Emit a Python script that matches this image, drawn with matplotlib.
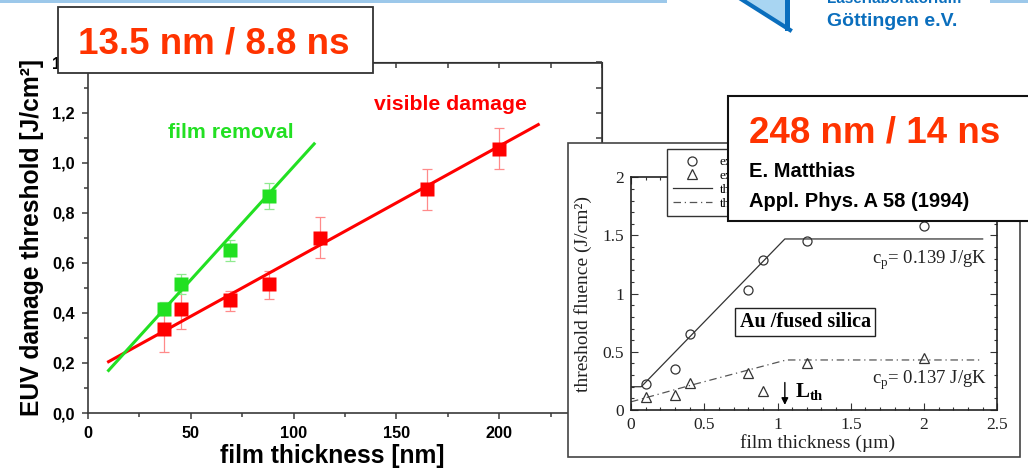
import numpy as np
import matplotlib
matplotlib.use("Agg")
import matplotlib.pyplot as plt
from matplotlib.patches import Rectangle, Polygon
from matplotlib.lines import Line2D

plt.rcParams['font.family'] = ['Liberation Sans', 'DejaVu Sans']
plt.rcParams['mathtext.fontset'] = 'custom'
plt.rcParams['mathtext.rm'] = 'Liberation Serif'
plt.rcParams['mathtext.bf'] = 'Liberation Serif:bold'

W, H = 1028, 470

# EUV (13.5 nm / 8.8 ns) damage thresholds
removal_thick = [37, 45, 69, 88]
removal_thr = [0.415, 0.515, 0.652, 0.868]
removal_lo = [0.39, 0.475, 0.609, 0.816]
removal_hi = [0.445, 0.556, 0.692, 0.919]
damage_thick = [37, 45, 69, 88, 113, 165, 200]
damage_thr = [0.335, 0.415, 0.45, 0.515, 0.70, 0.895, 1.056]
damage_lo = [0.243, 0.335, 0.408, 0.455, 0.619, 0.81, 0.976]
damage_hi = [0.408, 0.492, 0.488, 0.569, 0.783, 0.975, 1.139]
removal_fit_x = [10, 110]
removal_fit_y = [0.17, 1.075]
damage_fit_x = [10, 219]
damage_fit_y = [0.205, 1.152]
main_xticks = [0, 50, 100, 150, 200, 250]
main_xlabels = ['0', '50', '100', '150', '200', '250']
main_yticks = [0.0, 0.2, 0.4, 0.6, 0.8, 1.0, 1.2, 1.4]
main_ylabels = ['0,0', '0,2', '0,4', '0,6', '0,8', '1,0', '1,2', '1,4']

# 248 nm / 14 ns, Au on fused silica (Matthias 1994)
circ_x = [0.1, 0.3, 0.4, 0.8, 0.9, 1.2, 2.0]
circ_y = [0.22, 0.35, 0.65, 1.03, 1.29, 1.45, 1.58]
tri_x = [0.1, 0.3, 0.4, 0.8, 0.9, 1.2, 2.0]
tri_y = [0.11, 0.13, 0.23, 0.32, 0.16, 0.40, 0.45]
theo1_x = [0.0, 0.07, 1.05, 2.4]
theo1_y = [0.2, 0.2, 1.47, 1.47]
theo2_x = [0.0, 0.4, 1.06, 2.4]
theo2_y = [0.07, 0.21, 0.43, 0.43]
inset_xticks = [0, 0.5, 1, 1.5, 2, 2.5]
inset_xlabels = ['0', '0.5', '1', '1.5', '2', '2.5']
inset_yticks = [0, 0.5, 1, 1.5, 2]
inset_ylabels = ['0', '0.5', '1', '1.5', '2']
# legend entries are hidden behind the caption box except their first letters
inset_legend = ['ex', 'ex', 'th', 'th']

RED = '#ff0000'
GREEN = '#22e022'
TITLE = '#ff3300'
BLUE = '#0a6ebd'
SERIF = 'Liberation Serif'


def fx(x):
    return x / W


def fy(y):
    return 1 - y / H


def box(x0, y0, x1, y1):
    return [fx(x0), fy(y1), (x1 - x0) / W, (y1 - y0) / H]


def frect(x0, y0, x1, y1, **kw):
    r = Rectangle((fx(x0), fy(y1)), (x1 - x0) / W, (y1 - y0) / H,
                  transform=fig.transFigure, **kw)
    fig.add_artist(r)
    return r


fig = plt.figure(figsize=(W / 100, H / 100), dpi=100)

# ---- main EUV plot ----
ax = fig.add_axes(box(88, 62.5, 602, 413))
ax.set_xlim(0, 250)
ax.set_ylim(0, 1.4)

for th, thr, lo, hi, col, ecol in [
        (damage_thick, damage_thr, damage_lo, damage_hi, RED, '#ff8a8a'),
        (removal_thick, removal_thr, removal_lo, removal_hi, GREEN, '#8fea8f')]:
    thr = np.array(thr)
    yerr = [thr - np.array(lo), np.array(hi) - thr]
    ax.errorbar(th, thr, yerr=yerr, fmt='none', ecolor=ecol,
                elinewidth=0.9, capsize=3.5, capthick=0.9, zorder=2)
ax.plot(damage_fit_x, damage_fit_y, color=RED, lw=2.2, zorder=3)
ax.plot(removal_fit_x, removal_fit_y, color=GREEN, lw=2.2, zorder=3)
ax.plot(damage_thick, damage_thr, 's', color=RED, ms=9.5, mec='none', zorder=4)
ax.plot(removal_thick, removal_thr, 's', color=GREEN, ms=9.5, mec='none', zorder=4)

ax.set_xticks(main_xticks)
ax.set_xticklabels(main_xlabels, fontsize=11.7, fontweight='bold')
ax.set_xticks(np.arange(25, 250, 50), minor=True)
ax.set_yticks(main_yticks)
ax.set_yticklabels(main_ylabels, fontsize=11.7, fontweight='bold')
ax.set_yticks(np.arange(0.1, 1.4, 0.2), minor=True)
ax.tick_params(which='both', direction='out', colors='#3a3a3a',
               labelcolor='black', width=1.1)
ax.tick_params(which='major', length=4.5, pad=5)
ax.tick_params(which='minor', length=3)
for s in ax.spines.values():
    s.set_color('#3a3a3a')
    s.set_linewidth(1.2)

top = ax.secondary_xaxis('top')
top.set_xticks(np.arange(0, 251, 25))
top.set_xticklabels([])
top.tick_params(direction='in', length=4, width=1.1, colors='#3a3a3a')
right = ax.secondary_yaxis('right')
right.set_yticks(np.arange(0, 1.41, 0.1))
right.set_yticklabels([])
right.tick_params(direction='in', length=4, width=1.1, colors='#3a3a3a')

fig.text(fx(332.7), fy(463), 'film thickness [nm]', ha='center',
         va='baseline', fontsize=17.7, fontweight='bold')
fig.text(fx(32.5), fy(237.5), 'EUV damage threshold [J/cm²]', rotation=90,
         ha='center', va='center', fontsize=17.7, fontweight='bold')
fig.text(fx(231), fy(132), 'film removal', ha='center', va='center',
         fontsize=15.3, fontweight='bold', color=GREEN)
fig.text(fx(450), fy(105), 'visible damage', ha='center', va='center',
         fontsize=15.3, fontweight='bold', color=RED)

frect(58, 7.3, 373, 72.7, facecolor='white', edgecolor='#333333',
      lw=1.3, zorder=5)
fig.text(fx(78), fy(53.3), '13.5 nm / 8.8 ns', ha='left', va='baseline',
         fontsize=26.5, fontweight='bold', color=TITLE, zorder=6)

# ---- inset 248 nm plot ----
frect(568.3, 143.3, 1020, 456.7, facecolor='white', edgecolor='#444444',
      lw=1.2, zorder=1)
ins = fig.add_axes(box(631, 177.3, 997.3, 410))
ins.set_zorder(2)
ins.set_xlim(0, 2.5)
ins.set_ylim(0, 2)
l1, = ins.plot(theo1_x, theo1_y, '-', color='#333333', lw=0.9)
l2, = ins.plot(theo2_x, theo2_y, '-.', color='#555555', lw=0.9,
               dashes=(6, 3, 1, 3))
m1, = ins.plot(circ_x, circ_y, 'o', mfc='none', mec='#333333', ms=6.5,
               mew=0.9, ls='none')
m2, = ins.plot(tri_x, tri_y, '^', mfc='none', mec='#333333', ms=6.5,
               mew=0.9, ls='none')

ins.set_xticks(inset_xticks)
ins.set_xticklabels(inset_xlabels, fontsize=12.5, family=SERIF)
ins.set_xticks(np.arange(0.1, 2.5, 0.1), minor=True)
ins.set_yticks(inset_yticks)
ins.set_yticklabels(inset_ylabels, fontsize=12.5, family=SERIF)
ins.set_yticks(np.arange(0.1, 2.0, 0.1), minor=True)
ins.tick_params(which='both', direction='in', top=True, right=True,
                width=0.8, colors='#333333', labelcolor='#222222')
ins.tick_params(which='major', length=5, pad=5)
ins.tick_params(which='minor', length=2.5)
for s in ins.spines.values():
    s.set_color('#222222')
    s.set_linewidth(1.2)

ins.legend([m1, m2, l1, l2], inset_legend,
           loc='upper left', bbox_to_anchor=(fx(666.7), fy(149.3)),
           bbox_transform=fig.transFigure, prop={'family': SERIF, 'size': 9.5},
           frameon=True, fancybox=False, edgecolor='#333333', framealpha=1,
           borderpad=0.5, labelspacing=0.12, handlelength=2.9,
           handletextpad=0.6, borderaxespad=0)

ins.text(1.645, 1.29, r'c$_\mathrm{p}$= 0.139 J/gK', fontsize=13.5,
         family=SERIF, va='center', color='#222222')
ins.text(1.645, 0.258, r'c$_\mathrm{p}$= 0.137 J/gK', fontsize=13.5,
         family=SERIF, va='center', color='#222222')
ins.text(1.188, 0.756, 'Au /fused silica', ha='center', va='center',
         fontsize=14.5, fontweight='bold', family=SERIF,
         bbox=dict(boxstyle='square,pad=0.2', fc='white', ec='#222222', lw=1))
ins.annotate('', xy=(1.05, 0.02), xytext=(1.05, 0.26),
             arrowprops=dict(arrowstyle='-|>', color='black', lw=1,
                             mutation_scale=10))
ins.text(1.12, 0.157, r'$\mathbf{L_{th}}$', fontsize=15, va='center')

fig.text(fx(818), fy(443), 'film thickness (µm)', ha='center', va='center',
         fontsize=14, family=SERIF, color='#222222', zorder=2)
fig.text(fx(583), fy(294.5), 'threshold fluence (J/cm²)', rotation=90,
         ha='center', va='center', fontsize=14, family=SERIF,
         color='#222222', zorder=2)

# ---- 248 nm caption box ----
frect(727.7, 96, 1040, 220.7, facecolor='white', edgecolor='#111111',
      lw=1.5, zorder=3)
fig.text(fx(749), fy(142.7), '248 nm / 14 ns', ha='left', va='baseline',
         fontsize=26.5, fontweight='bold', color=TITLE, zorder=4)
fig.text(fx(749), fy(176.7), 'E. Matthias', ha='left', va='baseline',
         fontsize=14.5, fontweight='bold', zorder=4)
fig.text(fx(749), fy(206.7), 'Appl. Phys. A 58 (1994)', ha='left',
         va='baseline', fontsize=14.5, fontweight='bold', zorder=4)

# ---- slide decoration / logo ----
frect(0, 0, 667, 3, facecolor='#9cc8ea', edgecolor='none', zorder=7)
frect(990, 0, 1028, 3, facecolor='#9cc8ea', edgecolor='none', zorder=7)
fig.add_artist(Polygon([(fx(744), fy(0)), (fx(788), fy(0)), (fx(788), fy(27))],
                       closed=True, transform=fig.transFigure,
                       facecolor='#a8d5f2', edgecolor='none', zorder=7))
fig.add_artist(Line2D([fx(741), fx(790)], [fy(-1), fy(30)],
                      transform=fig.transFigure, color=BLUE, lw=3, zorder=8))
frect(785, 0, 790, 31, facecolor=BLUE, edgecolor='none', zorder=8)
fig.text(fx(826.7), fy(3.3), 'Laserlaboratorium', ha='left', va='baseline',
         fontsize=11, fontweight='bold', color=BLUE, zorder=8)
fig.text(fx(826.7), fy(26), 'Göttingen e.V.', ha='left', va='baseline',
         fontsize=14, fontweight='bold', color=BLUE, zorder=8)

fig.savefig('out.png', dpi=100)
